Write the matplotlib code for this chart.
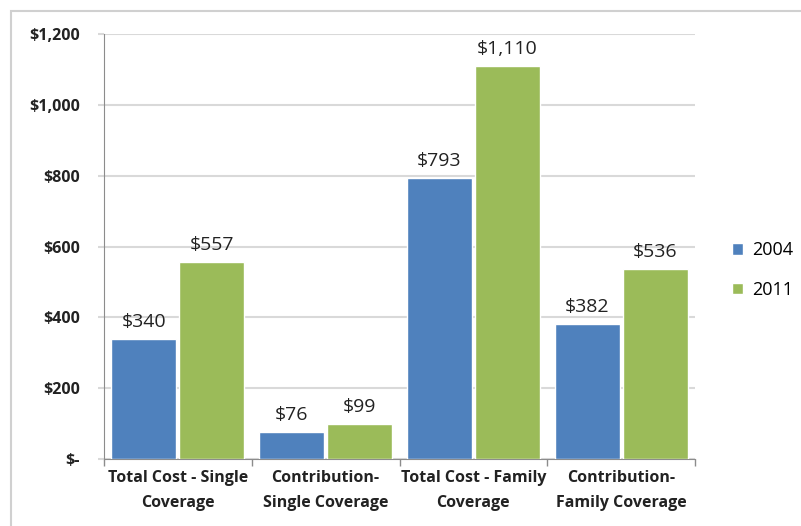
import matplotlib.pyplot as plt
import matplotlib.patches as patches
import numpy as np

categories = ['Total Cost - Single\nCoverage', 'Contribution-\nSingle Coverage',
              'Total Cost - Family\nCoverage', 'Contribution-\nFamily Coverage']
vals_2004 = [340, 76, 793, 382]
vals_2011 = [557, 99, 1110, 536]
series_names = ['2004', '2011']
yticks = [0, 200, 400, 600, 800, 1000, 1200]
ytick_labels = ['$-', '$200', '$400', '$600', '$800', '$1,000', '$1,200']

blue = '#4F81BD'
green = '#9BBB59'
grid_c = '#D9D9D9'
axis_c = '#8C8C8C'

plt.rcParams['font.family'] = ['Open Sans', 'DejaVu Sans']

fig = plt.figure(figsize=(8.01, 5.26), dpi=100)
ax = fig.add_axes([104/801, 1-459/526, (695-104)/801, (459-34)/526])

# outer chart border
fig.patches.append(patches.Rectangle((11/801, -0.1), 1.2, (526-11)/526 + 0.1,
                                     transform=fig.transFigure, fill=False,
                                     edgecolor='#D0D0D0', linewidth=1.5))

x = np.arange(len(categories))
w = 0.44
b1 = ax.bar(x - w/2 - 0.01, vals_2004, w, color=blue, edgecolor='white', linewidth=1, label=series_names[0], zorder=3)
b2 = ax.bar(x + w/2 + 0.01, vals_2011, w, color=green, edgecolor='white', linewidth=1, label=series_names[1], zorder=3)

for bars, vals in ((b1, vals_2004), (b2, vals_2011)):
    for r, v in zip(bars, vals):
        ax.text(r.get_x() + r.get_width()/2, v + 22, '${:,}'.format(v),
                ha='center', va='bottom', fontsize=14, color='#222222')

ax.set_xlim(-0.5, 3.5)
ax.set_ylim(0, 1200)
ax.set_yticks(yticks)
ax.set_yticklabels(ytick_labels, fontsize=11.5, fontweight='bold', color='#222222')
ax.yaxis.grid(True, color=grid_c, linewidth=1.5, zorder=0)
ax.set_axisbelow(True)
ax.tick_params(axis='y', length=4.5, color=grid_c, width=1.5, pad=13)

ax.set_xticks(x)
ax.set_xticklabels(categories, fontsize=11.5, fontweight='bold', color='#222222', linespacing=1.7)
ax.tick_params(axis='x', which='major', length=0, pad=8)
ax.set_xticks(np.arange(-0.5, 4, 1), minor=True)
ax.tick_params(axis='x', which='minor', length=5, color=axis_c, width=1)

for s in ['top', 'right']:
    ax.spines[s].set_visible(False)
ax.spines['left'].set_color(axis_c)
ax.spines['bottom'].set_color(axis_c)

leg = fig.legend(handles=[b1, b2], labels=series_names, loc='center left',
                 bbox_to_anchor=(716/801, 1-270/526), frameon=False,
                 fontsize=13, handlelength=0.6, handleheight=0.6,
                 labelspacing=1.2, handletextpad=0.5)

fig.savefig('out.png', dpi=100, facecolor='white')
